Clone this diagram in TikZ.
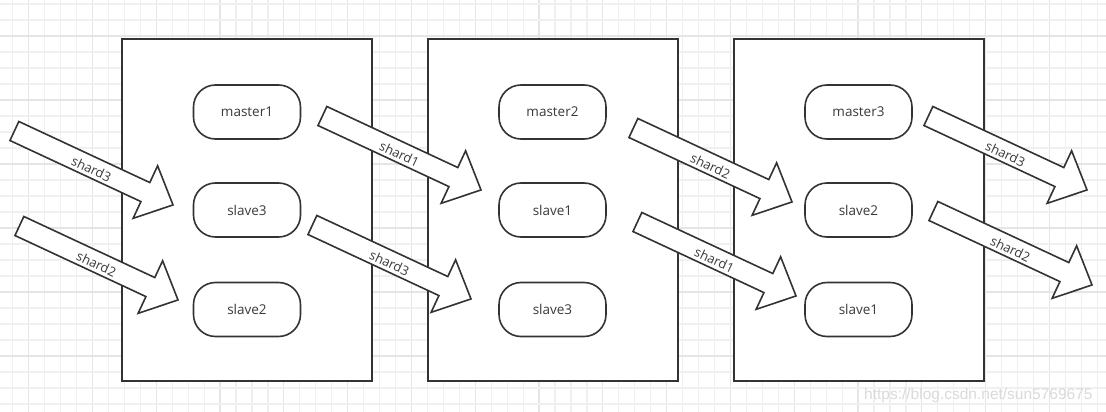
\documentclass[tikz,border=0pt]{standalone}
\usepackage{fontspec}
\setmainfont{Open Sans}
\newfontfamily\wmfont{Liberation Sans}
\definecolor{gridminor}{HTML}{F0F0F0}
\definecolor{gridmajor}{HTML}{E5E5E5}
\definecolor{ink}{HTML}{333333}
\definecolor{txt}{HTML}{3A3A3A}
\definecolor{wm}{HTML}{DADADA}
\tikzset{
  container/.style={draw=ink, line width=2pt, fill=white, minimum width=250pt, minimum height=342pt, inner sep=0pt},
  server/.style={draw=ink, line width=1.6pt, fill=white, rounded corners=22pt, minimum width=107pt, minimum height=54pt, inner sep=0pt, text=txt, font=\fontsize{13.5}{16}\selectfont},
  blockarrow/.style={draw=ink, line width=1.6pt, fill=white, line join=miter},
  shardlabel/.style={transform shape, text=txt, inner sep=0pt, font=\fontsize{13}{16}\selectfont}
}
\newcommand\shardarrow[3]{%
  \begin{scope}[shift={(#1,#2)}, rotate=-25]
    \draw[blockarrow] (0,-10.5) -- (144.5,-10.5) -- (144.5,-29) -- (175,0) -- (144.5,29) -- (144.5,10.5) -- (0,10.5) -- cycle;
    \node[shardlabel] at (86,2) {#3};
  \end{scope}}
\begin{document}
\begin{tikzpicture}[x=1pt,y=-1pt]
  \useasboundingbox (0,0) rectangle (1106,412);
  \fill[white] (0,0) rectangle (1106,412);
  % grid
  \foreach \i in {0,...,68} {
    \pgfmathsetmacro\gx{12.7+15.95*\i}
    \pgfmathtruncatemacro\m{mod(\i,4)}
    \ifnum\m=1
      \draw[gridmajor, line width=1.2pt] (\gx,0) -- (\gx,412);
    \else
      \draw[gridminor, line width=1.2pt] (\gx,0) -- (\gx,412);
    \fi
  }
  \foreach \j in {0,...,25} {
    \pgfmathsetmacro\gy{4+16*\j}
    \pgfmathtruncatemacro\m{mod(\j,4)}
    \ifnum\m=2
      \draw[gridmajor, line width=1.2pt] (0,\gy) -- (1106,\gy);
    \else
      \draw[gridminor, line width=1.2pt] (0,\gy) -- (1106,\gy);
    \fi
  }
  % containers
  \node[container] (box1) at (247,210) {};
  \node[container] (box2) at (552.5,210) {};
  \node[container] (box3) at (858.5,210) {};
  % servers
  \node[server] (m1) at (247,112) {master1};
  \node[server] (s13) at (247,210) {slave3};
  \node[server] (s12) at (247,309.5) {slave2};
  \node[server] (m2) at (552.5,112) {master2};
  \node[server] (s21) at (552.5,210) {slave1};
  \node[server] (s23) at (552.5,309.5) {slave3};
  \node[server] (m3) at (858.5,112) {master3};
  \node[server] (s32) at (858.5,210) {slave2};
  \node[server] (s31) at (858.5,309.5) {slave1};
  % shard arrows
  \shardarrow{14.4}{131}{shard3}
  \shardarrow{19.4}{226}{shard2}
  \shardarrow{322.4}{116}{shard1}
  \shardarrow{312.4}{225}{shard3}
  \shardarrow{633.4}{128}{shard2}
  \shardarrow{637.4}{222}{shard1}
  \shardarrow{928.4}{116}{shard3}
  \shardarrow{933.4}{211}{shard2}
  % watermark
  \node[anchor=base west, inner sep=0pt, text=wm, font=\wmfont\fontsize{15.5}{18}\selectfont] (wmark) at (864,399) {https://blog.csdn.net/sun5769675};
\end{tikzpicture}
\end{document}
